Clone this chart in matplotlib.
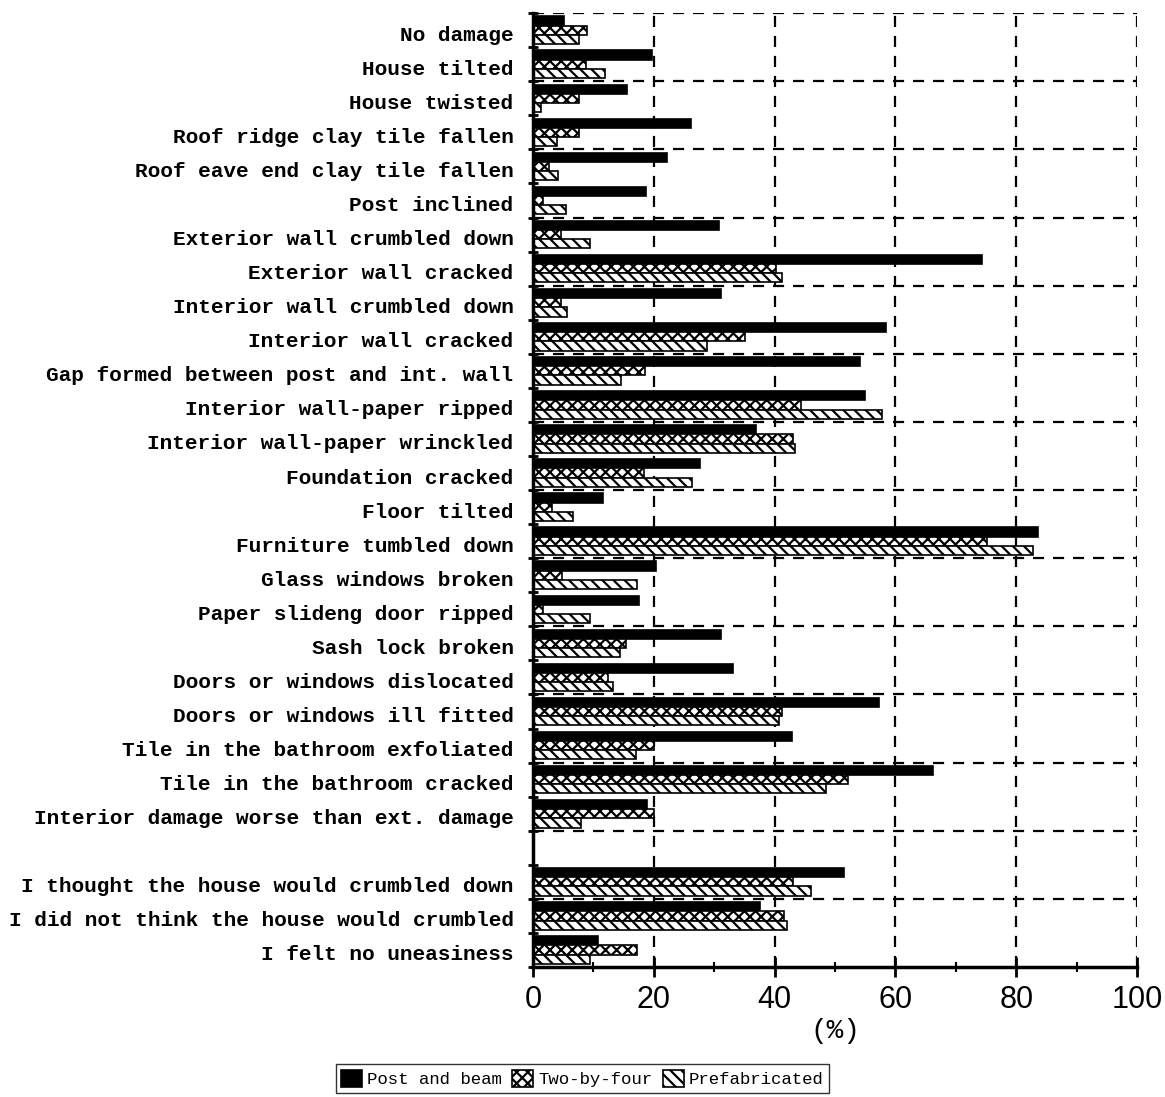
import matplotlib
matplotlib.use('Agg')
import matplotlib.pyplot as plt
import matplotlib.transforms as mtransforms
import numpy as np
from matplotlib.ticker import MultipleLocator

plt.rcParams['hatch.linewidth'] = 1.6

categories = [
    "No damage", "House tilted", "House twisted", "Roof ridge clay tile fallen",
    "Roof eave end clay tile fallen", "Post inclined", "Exterior wall crumbled down",
    "Exterior wall cracked", "Interior wall crumbled down", "Interior wall cracked",
    "Gap formed between post and int. wall", "Interior wall-paper ripped",
    "Interior wall-paper wrinckled", "Foundation cracked", "Floor tilted",
    "Furniture tumbled down", "Glass windows broken", "Paper slideng door ripped",
    "Sash lock broken", "Doors or windows dislocated", "Doors or windows ill fitted",
    "Tile in the bathroom exfoliated", "Tile in the bathroom cracked",
    "Interior damage worse than ext. damage",
    "",
    "I thought the house would crumbled down", "I did not think the house would crumbled",
    "I felt no uneasiness",
]

post_and_beam = [5.2, 19.7, 15.6, 26.2, 22.2, 18.7, 30.8, 74.3, 31.2, 58.5,
                 54.1, 54.9, 36.9, 27.6, 11.6, 83.6, 20.4, 17.6, 31.1, 33.1,
                 57.3, 42.9, 66.2, 18.8, np.nan, 51.5, 37.5, 10.8]
two_by_four = [8.9, 8.8, 7.6, 7.6, 2.7, 1.6, 4.7, 40.2, 4.7, 35.1,
               18.5, 44.4, 43.0, 18.4, 3.1, 75.2, 4.8, 1.6, 15.4, 12.4,
               41.3, 20.0, 52.1, 20.0, np.nan, 43.0, 41.6, 17.2]
prefabricated = [7.7, 11.9, 1.3, 4.0, 4.1, 5.5, 9.5, 41.2, 5.6, 28.8,
                 14.6, 57.8, 43.4, 26.4, 6.7, 82.7, 17.3, 9.5, 14.4, 13.2,
                 40.7, 17.1, 48.5, 8.0, np.nan, 46.0, 42.1, 9.5]

font = ['Liberation Mono', 'DejaVu Sans Mono']
digits = ['Liberation Sans', 'DejaVu Sans']

fig = plt.figure(figsize=(11.65, 10.97), dpi=100)
ax = fig.add_axes([0.4575, 0.1185, 0.5185, 0.8695])

y = np.arange(len(categories)) + 0.5
h = 0.27
ax.barh(y - h, post_and_beam, height=h, color='black', edgecolor='black',
        linewidth=1.2, label='Post and beam')
ax.barh(y, two_by_four, height=h, color='white', edgecolor='black',
        linewidth=1.2, hatch='xxx', label='Two-by-four')
ax.barh(y + h, prefabricated, height=h, color='white', edgecolor='black',
        linewidth=1.2, hatch='\\\\\\', label='Prefabricated')

ax.set_xlim(0, 100)
ax.set_ylim(len(categories), 0)

ax.set_yticks(y)
ax.set_yticklabels(categories, family=font, fontweight='bold', fontsize=15.2)
ax.tick_params(axis='y', which='major', length=0, pad=14)
shift = mtransforms.ScaledTranslation(0, -3 / 100, fig.dpi_scale_trans)
for lab in ax.get_yticklabels():
    lab.set_transform(lab.get_transform() + shift)
ax.yaxis.set_minor_locator(MultipleLocator(1))
ax.tick_params(axis='y', which='minor', length=7, width=2, direction='inout')

ax.xaxis.set_major_locator(MultipleLocator(20))
ax.xaxis.set_minor_locator(MultipleLocator(10))
ax.tick_params(axis='x', which='major', length=14, width=2, direction='inout', pad=6)
ax.tick_params(axis='x', which='minor', length=7, width=1.5, direction='inout')
for lab in ax.get_xticklabels():
    lab.set_family(digits)
    lab.set_fontsize(22)
ax.set_xlabel('(%)', family=font, fontsize=20, labelpad=2)

# dashed grid
for xv in [20, 40, 60, 80, 100]:
    ax.axvline(xv, color='black', linestyle=(0, (5, 4)), linewidth=1.6, zorder=0)
for yv in range(0, len(categories), 2):
    ax.axhline(yv, color='black', linestyle=(0, (5, 4)), linewidth=1.6, zorder=0)

for side in ['top', 'right']:
    ax.spines[side].set_visible(False)
ax.spines['left'].set_linewidth(2.5)
ax.spines['bottom'].set_linewidth(2.5)

fig.legend(loc='lower center', bbox_to_anchor=(0.5, -0.004), ncol=3,
           prop={'family': font, 'size': 12.5}, frameon=True, fancybox=False,
           edgecolor='black', handlelength=1.2, handleheight=1.2,
           handletextpad=0.3, columnspacing=0.6, borderpad=0.3)

fig.savefig('out.png', dpi=100)
